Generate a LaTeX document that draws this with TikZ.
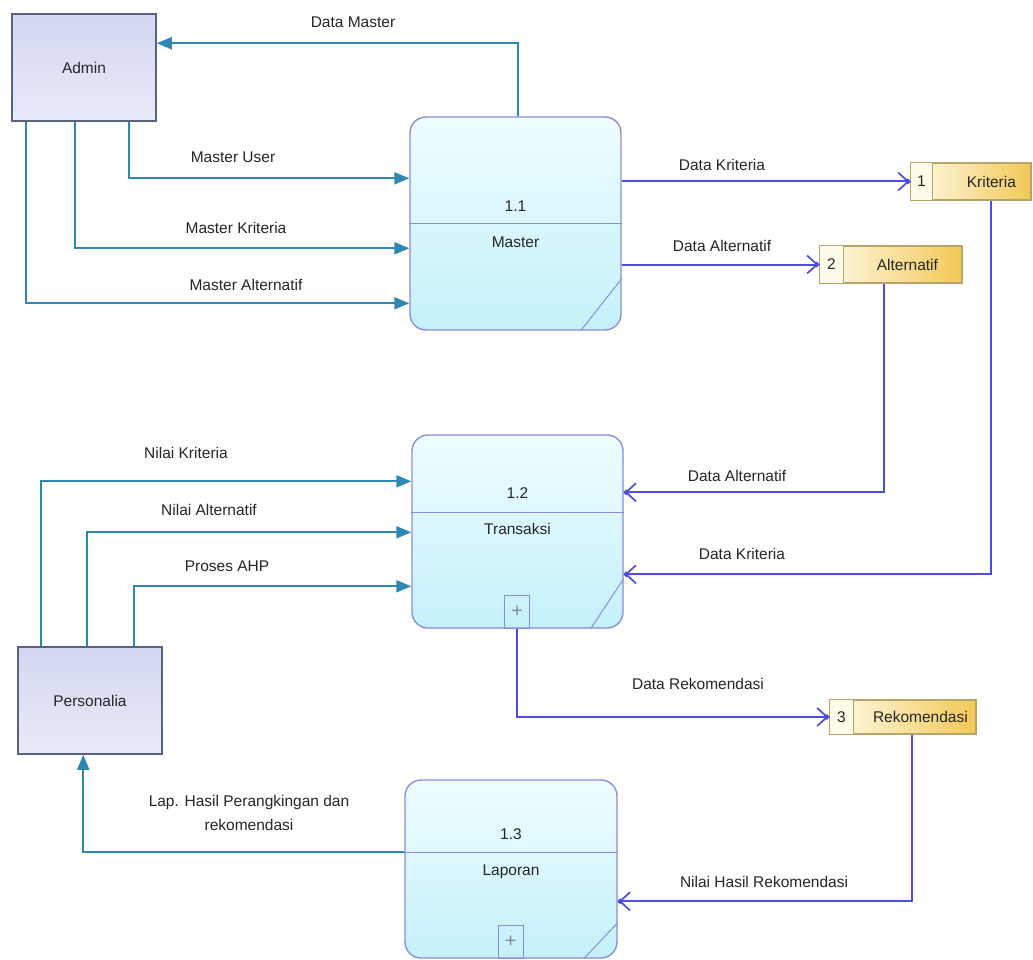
\documentclass[tikz,border=0pt]{standalone}
\usepackage{fontspec}
\setmainfont{Liberation Sans}
\usetikzlibrary{arrows.meta}

\definecolor{flowteal}{HTML}{2E88B2}
\definecolor{flowblue}{HTML}{4B4BE6}
\definecolor{procedge}{HTML}{8C8CDC}
\definecolor{proctop}{HTML}{EFFDFF}
\definecolor{procbot}{HTML}{C4F1FA}
\definecolor{entedge}{HTML}{56647E}
\definecolor{enttop}{HTML}{D3D7F1}
\definecolor{entbot}{HTML}{E8EAF8}
\definecolor{storeedge}{HTML}{B8A468}
\definecolor{storeleft}{HTML}{FFFBEA}
\definecolor{storeright}{HTML}{F2C857}
\definecolor{txt}{HTML}{262626}
\definecolor{plusgray}{HTML}{8A8AA8}

\tikzset{
  every node/.style={font=\fontsize{15.5}{18}\selectfont, text=txt, inner sep=0pt},
  entity/.style={draw=entedge, line width=1.5pt, top color=enttop, bottom color=entbot, rectangle},
  proc/.style={draw=procedge, line width=1.4pt, rounded corners=16pt, top color=proctop, bottom color=procbot, rectangle},
  procline/.style={draw=procedge, line width=1.3pt},
  store/.style={draw=storeedge, line width=1.2pt, left color=storeleft, right color=storeright, rectangle},
  plusbox/.style={draw=procedge, line width=1.1pt, rectangle, minimum width=25pt, minimum height=33pt, text=plusgray, font=\fontsize{20}{20}\selectfont},
  tealflow/.style={draw=flowteal, line width=2pt, -{Triangle[length=15pt,width=12pt]}},
  blueflow/.style={draw=flowblue, line width=2pt, -{Straight Barb[length=10pt,width=18pt,line width=1.7pt,sep=-4pt]Circle[length=5pt]}},
}

\begin{document}
\begin{tikzpicture}[x=1pt,y=-1pt]
\useasboundingbox (0,0) rectangle (1033,960);
\clip (0,0) rectangle (1033,960);
\fill[white] (0,0) rectangle (1033,960);

% external entities
\node[entity, minimum width=144pt, minimum height=107pt] (admin) at (84,67.5) {};
\node (admintext) at (admin.center) {Admin};
\node[entity, minimum width=144pt, minimum height=107pt] (pers) at (90,700.5) {};
\node (perstext) at (pers.center) {Personalia};

% processes
\node[proc, minimum width=211pt, minimum height=213pt] (master) at (515.5,223.5) {};
\draw[procline] ([yshift=-107pt]master.north west) -- ([yshift=-107pt]master.north east);
\draw[procline, line width=1pt] ([xshift=-41pt]master.south east) -- ([yshift=52pt]master.south east);
\node (masterid) at ([yshift=-90pt]master.north) {1.1};
\node (mastername) at ([yshift=-126pt]master.north) {Master};

\node[proc, minimum width=211pt, minimum height=193pt] (trans) at (517.5,531.5) {};
\draw[procline] ([yshift=-78pt]trans.north west) -- ([yshift=-78pt]trans.north east);
\draw[procline, line width=1pt] ([xshift=-33pt]trans.south east) -- ([yshift=50pt]trans.south east);
\node (transid) at ([yshift=-59pt]trans.north) {1.2};
\node (transname) at ([yshift=-95pt]trans.north) {Transaksi};
\node[plusbox, anchor=south] (tplus) at ([xshift=106pt]trans.south west) {+};

\node[proc, minimum width=212pt, minimum height=178pt] (lap) at (511,869) {};
\draw[procline] ([yshift=-73pt]lap.north west) -- ([yshift=-73pt]lap.north east);
\draw[procline, line width=1pt] ([xshift=-34pt]lap.south east) -- ([yshift=36pt]lap.south east);
\node (lapid) at ([yshift=-55pt]lap.north) {1.3};
\node (lapname) at ([yshift=-92pt]lap.north) {Laporan};
\node[plusbox, anchor=south] (lplus) at ([xshift=106.5pt]lap.south west) {+};

% data stores
\node[store, minimum width=120pt, minimum height=37pt] (krit) at (971,181.5) {};
\draw[draw=storeedge, line width=1.2pt, fill=storeleft] (krit.north west) rectangle ([xshift=22pt]krit.south west);
\node (kritnum) at ([xshift=11pt]krit.west) {1};
\node (kritname) at ([xshift=81pt]krit.west) {Kriteria};

\node[store, minimum width=142pt, minimum height=37pt] (alt) at (891,264.5) {};
\draw[draw=storeedge, line width=1.2pt, fill=storeleft] (alt.north west) rectangle ([xshift=24pt]alt.south west);
\node (altnum) at ([xshift=12pt]alt.west) {2};
\node (altname) at ([xshift=88pt]alt.west) {Alternatif};

\node[store, minimum width=146pt, minimum height=34pt] (rek) at (903,717) {};
\draw[draw=storeedge, line width=1.2pt, fill=storeleft] (rek.north west) rectangle ([xshift=24pt]rek.south west);
\node (reknum) at ([xshift=12pt]rek.west) {3};
\node (rekname) at ([xshift=91pt]rek.west) {Rekomendasi};

% flows between entities and processes
\draw[tealflow] ([xshift=109pt]master.north west) |- ([yshift=-30pt]admin.north east);
\draw[tealflow] ([xshift=118pt]admin.south west) |- ([yshift=-62pt]master.north west);
\draw[tealflow] ([xshift=64pt]admin.south west) |- ([yshift=-132pt]master.north west);
\draw[tealflow] ([xshift=15pt]admin.south west) |- ([yshift=-187pt]master.north west);
\draw[tealflow] ([xshift=24pt]pers.north west) |- ([yshift=-47pt]trans.north west);
\draw[tealflow] ([xshift=70pt]pers.north west) |- ([yshift=-98pt]trans.north west);
\draw[tealflow] ([xshift=117pt]pers.north west) |- ([yshift=-152pt]trans.north west);
\draw[tealflow] ([yshift=-73pt]lap.north west) -| ([xshift=66pt]pers.south west);

% flows to and from data stores
\draw[blueflow] (master.east |- krit.west) -- (krit.west);
\draw[blueflow] (master.east |- alt.west) -- (alt.west);
\draw[blueflow] ([xshift=65pt]alt.south west) |- ([yshift=-58pt]trans.north east);
\draw[blueflow] ([xshift=81pt]krit.south west) |- ([yshift=-140pt]trans.north east);
\draw[blueflow] (tplus.south) |- (rek.west);
\draw[blueflow] ([xshift=83pt]rek.south west) |- ([yshift=-122pt]lap.north east);

% flow labels
\node (l1) at (353,22) {Data Master};
\node (l2) at (233,157) {Master User};
\node (l3) at (236,228) {Master Kriteria};
\node (l4) at (246,285) {Master Alternatif};
\node (l5) at (186,453) {Nilai Kriteria};
\node (l6) at (209,510) {Nilai Alternatif};
\node (l7) at (227,566) {Proses AHP};
\node (l8) at (249,802) {Lap. Hasil Perangkingan dan};
\node (l9) at (249,825) {rekomendasi};
\node (l10) at (722,165) {Data Kriteria};
\node (l11) at (722,246) {Data Alternatif};
\node (l12) at (737,476) {Data Alternatif};
\node (l13) at (742,554) {Data Kriteria};
\node (l14) at (698,684) {Data Rekomendasi};
\node (l15) at (764,882) {Nilai Hasil Rekomendasi};
\end{tikzpicture}
\end{document}
